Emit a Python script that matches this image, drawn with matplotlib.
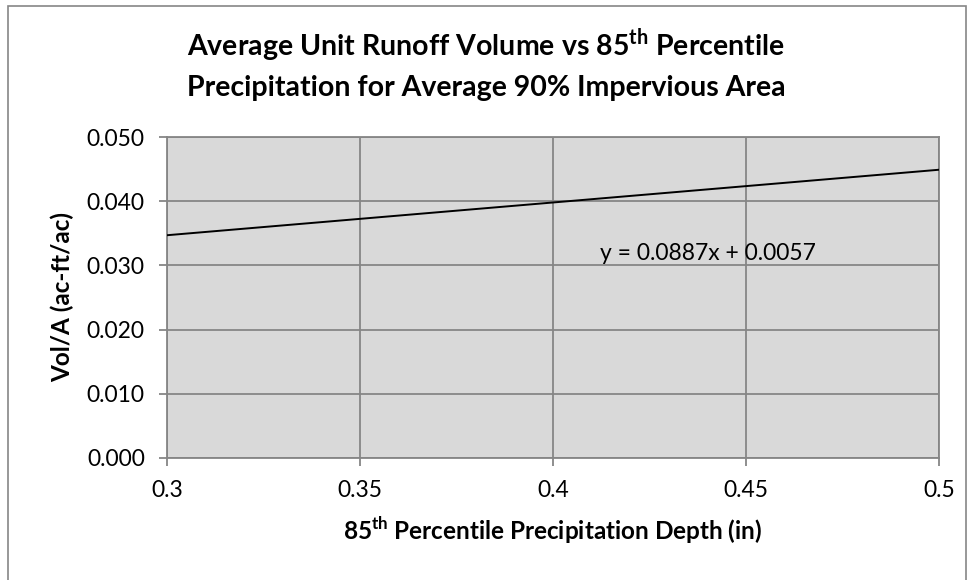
import matplotlib
matplotlib.use('Agg')
import matplotlib.pyplot as plt
from matplotlib.patches import Rectangle

plt.rcParams['font.family'] = ['Lato', 'DejaVu Sans']
plt.rcParams['mathtext.fontset'] = 'custom'
plt.rcParams['mathtext.rm'] = 'Lato'
plt.rcParams['mathtext.bf'] = 'Lato:bold'

# data
x_vals = [0.3, 0.5]
y_vals = [0.0347, 0.0449]
x_ticks = [0.3, 0.35, 0.4, 0.45, 0.5]
x_tick_labels = ['0.3', '0.35', '0.4', '0.45', '0.5']
y_ticks = [0.0, 0.01, 0.02, 0.03, 0.04, 0.05]
y_tick_labels = ['0.000', '0.010', '0.020', '0.030', '0.040', '0.050']
equation = 'y = 0.0887x + 0.0057'

fig = plt.figure(figsize=(9.72, 5.8), dpi=100)
fig.patch.set_facecolor('white')

# outer chart border
fig.patches.append(Rectangle((8 / 972, -0.05), 958 / 972, 1.05 - 6 / 580,
                             transform=fig.transFigure, fill=False,
                             edgecolor='#868686', linewidth=1.2))

ax = fig.add_axes([167 / 972, 1 - 458 / 580, 772 / 972, 321 / 580])
ax.set_facecolor('#D9D9D9')

ax.plot(x_vals, y_vals, color='black', linewidth=1.4, zorder=3)

ax.set_xlim(0.3, 0.5)
ax.set_ylim(0, 0.05)
ax.set_xticks(x_ticks)
ax.set_xticklabels(x_tick_labels)
ax.set_yticks(y_ticks)
ax.set_yticklabels(y_tick_labels)
ax.grid(True, color='#868686', linewidth=1.3)
ax.set_axisbelow(True)
for s in ax.spines.values():
    s.set_color('#868686')
    s.set_linewidth(1.3)
ax.tick_params(colors='#868686', labelcolor='black', labelsize=16.5,
               length=6, width=1.3, direction='out', pad=10)

ax.set_xlabel(r'85$^{\mathbf{th}}$ Percentile Precipitation Depth (in)',
              fontsize=17.5, fontweight='bold', labelpad=10)
ax.set_ylabel('Vol/A (ac-ft/ac)', fontsize=17.5, fontweight='bold', labelpad=9)

ax.text(0.4122, 0.0318, equation, fontsize=16.5, ha='left', va='center')

fig.text(0.5, 1 - 45 / 580,
         r'Average Unit Runoff Volume vs 85$^{\mathbf{th}}$ Percentile',
         ha='center', va='center', fontsize=20.5, fontweight='bold')
fig.text(0.5, 1 - 88 / 580,
         'Precipitation for Average 90% Impervious Area',
         ha='center', va='center', fontsize=20.5, fontweight='bold')

fig.savefig('out.png', dpi=100)
